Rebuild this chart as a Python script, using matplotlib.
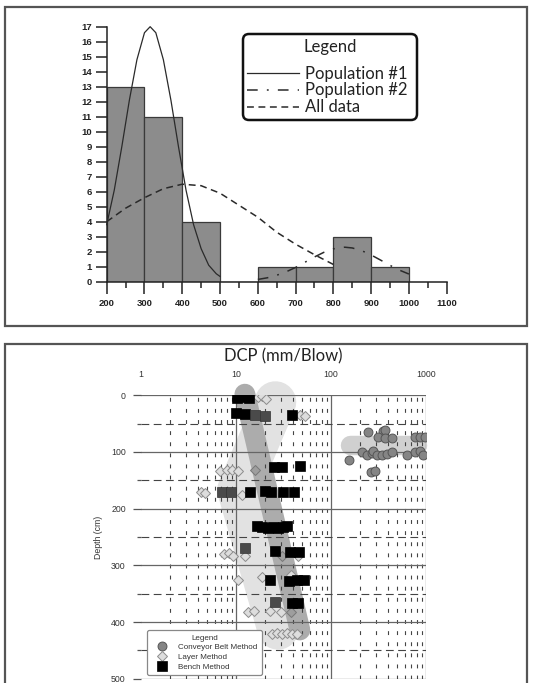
import matplotlib
matplotlib.use('Agg')
import matplotlib.pyplot as plt
import matplotlib.ticker as mticker
from matplotlib.patches import FancyBboxPatch

# ---------------- top panel data (histogram + fitted curves) ----------------
bin_edges = [200, 300, 400, 500, 600, 700, 800, 900, 1000]
bin_counts = [13, 11, 4, 0, 1, 1, 3, 1]

pop1_x = [200, 220, 240, 260, 280, 300, 315, 330, 350, 370, 390, 410, 430, 450, 470, 490, 500]
pop1_y = [3.8, 6.1, 9.0, 12.1, 14.8, 16.6, 17.0, 16.6, 14.8, 12.1, 9.0, 6.1, 3.8, 2.2, 1.1, 0.53, 0.35]

pop2_x = [600, 625, 650, 675, 700, 725, 750, 775, 800, 830, 850, 875, 900, 925, 950, 975, 1000]
pop2_y = [0.15, 0.26, 0.43, 0.66, 0.95, 1.30, 1.65, 1.96, 2.19, 2.30, 2.25, 2.07, 1.78, 1.44, 1.09, 0.77, 0.51]

all_x = [200, 250, 300, 350, 400, 450, 500, 550, 600, 650, 700, 750, 800]
all_y = [4.0, 4.9, 5.6, 6.2, 6.5, 6.4, 5.9, 5.1, 4.3, 3.3, 2.5, 1.8, 1.15]

top_xticks = [200, 300, 400, 500, 600, 700, 800, 900, 1000, 1100]
top_yticks = list(range(0, 18))
top_legend_labels = ['Population #1', 'Population #2', 'All data']

# ---------------- bottom panel data (DCP vs depth) ----------------
bench_x = [10.2, 12.0, 13.7, 9.9, 12.4, 38.6, 25.1, 30.7, 47.2, 14.0, 20.2, 23.2, 31.5, 41.1,
           16.6, 19.0, 21.5, 24.5, 27.5, 31.0, 34.5, 25.7, 37.0, 46.0, 22.8, 36.1, 43.9, 52.0,
           38.6, 45.3]
bench_y = [4, 3, 4, 32, 33, 35, 126, 126, 124, 170, 169, 171, 170, 171,
           231, 233, 234, 233, 234, 232, 231, 275, 276, 276, 325, 327, 326, 325,
           366, 366]
bench_dark_x = [15.9, 20.2, 7.2, 8.8, 12.4, 25.7]
bench_dark_y = [35, 36, 170, 170, 270, 364]

layer_x = [17.1, 19.0, 20.7, 47.0, 53.0, 6.8, 8.0, 9.0, 10.5, 4.3, 4.7, 11.5,
           7.5, 8.4, 9.3, 12.4, 45.3, 10.6, 18.6, 37.9, 13.5, 15.5, 22.8, 29.5,
           23.8, 26.8, 30.3, 34.2, 38.6, 43.5]
layer_y = [3, 1, 6, 34, 36, 133, 132, 131, 133, 171, 173, 176,
           280, 278, 284, 284, 284, 325, 320, 317, 382, 381, 381, 382,
           421, 420, 422, 420, 421, 422]
layer_dark_x = [15.7, 30.3, 37.9]
layer_dark_y = [132, 283, 382]

conv_x = [247, 355, 370, 315, 370, 435, 766, 865, 977,
          210, 238, 268, 280, 303, 342, 386, 435, 626, 766, 865, 937,
          155, 262, 290]
conv_y = [64, 63, 61, 73, 76, 76, 73, 73, 73,
          100, 105, 102, 98, 106, 105, 104, 100, 105, 100, 99, 105,
          114, 136, 134]

# trend bands drawn behind the points
layer_band_x = [26.0, 10.5, 27.7]
layer_band_y = [12, 167, 412]
bench_band_x = [12.4, 47.0]
bench_band_y = [-2, 414]
conv_band_x = [158, 800]
conv_band_y = [87, 87]

bottom_xticks = [1, 10, 100, 1000]
bottom_yticks = [0, 100, 200, 300, 400, 500]
bottom_legend_labels = ['Conveyor Belt Method', 'Layer Method', 'Bench Method']

W, H = 534, 683
fig = plt.figure(figsize=(W / 100, H / 100), dpi=100)
fig.patch.set_facecolor('white')


def px_box(x0, y0, x1, y1):
    return [x0 / W, 1 - y1 / H, (x1 - x0) / W, (y1 - y0) / H]


# frames (in inches via dpi_scale_trans)
for (x0, y0, x1, y1) in [(5, 7, 527, 326), (5, 344, 527, 690)]:
    fr = FancyBboxPatch((x0 / 100, (H - y1) / 100), (x1 - x0) / 100, (y1 - y0) / 100,
                        boxstyle='square,pad=0', transform=fig.dpi_scale_trans,
                        fc='none', ec='#555555', lw=1.6, zorder=0)
    fig.patches.append(fr)

# ======================= TOP PANEL =======================
ax = fig.add_axes(px_box(106.7, 26.7, 446.7, 281.7))
widths = [bin_edges[i + 1] - bin_edges[i] for i in range(len(bin_counts))]
ax.bar(bin_edges[:-1], bin_counts, width=widths, align='edge',
       color='#8c8c8c', edgecolor='#3a3a3a', linewidth=0.9, zorder=1)
l1, = ax.plot(pop1_x, pop1_y, color='#2a2a2a', lw=0.9, zorder=3, clip_on=False)
l2, = ax.plot(pop2_x, pop2_y, color='#2a2a2a', lw=1.1, ls=(0, (7, 6, 1.2, 6)), zorder=3)
l3, = ax.plot(all_x, all_y, color='#2a2a2a', lw=1.1, ls=(0, (4.5, 3)), zorder=3)

ax.set_xlim(200, 1100)
ax.set_ylim(0, 17)
ax.set_xticks(top_xticks)
ax.xaxis.set_minor_locator(mticker.MultipleLocator(50))
ax.set_yticks(top_yticks)
for s in ['top', 'right']:
    ax.spines[s].set_visible(False)
for s in ['left', 'bottom']:
    ax.spines[s].set_color('#222222')
    ax.spines[s].set_linewidth(1.1)
ax.tick_params(axis='x', which='major', direction='out', length=8.6, width=1.1,
               color='#222222', pad=3.6)
ax.tick_params(axis='x', which='minor', direction='out', length=4.3, width=1.1,
               color='#222222')
ax.tick_params(axis='y', which='major', direction='out', length=7.7, width=1.1,
               color='#222222', pad=3)
for lab in ax.get_xticklabels() + ax.get_yticklabels():
    lab.set_fontfamily('Liberation Sans')
    lab.set_fontweight('bold')
    lab.set_fontsize(6.8)
    lab.set_color('#222222')
ax.patch.set_alpha(0)

# top legend: rounded box + title + entries (all inside the top axes' artists)
lb = FancyBboxPatch((243 / 100, (H - 120) / 100), 174 / 100, 86 / 100,
                    boxstyle='round,pad=0,rounding_size=0.06',
                    transform=fig.dpi_scale_trans, fc='white', ec='#111111', lw=1.8,
                    zorder=5, clip_on=False)
ax.add_patch(lb)
ax.text(330 / W, 1 - 47 / H, 'Legend', ha='center', va='center', transform=fig.transFigure,
        fontsize=12, family='Lato', color='#222222', zorder=6)
leg = ax.legend([l1, l2, l3], top_legend_labels, loc='upper left',
                bbox_to_anchor=(247 / W, 1 - 65.5 / H), bbox_transform=fig.transFigure,
                frameon=False, borderpad=0, borderaxespad=0, handlelength=3.1,
                handletextpad=0.4, labelspacing=0.06,
                prop={'family': 'Lato', 'size': 12})
for t in leg.get_texts():
    t.set_color('#222222')
leg.set_zorder(7)

# ======================= BOTTOM PANEL =======================
ax2 = fig.add_axes(px_box(141, 395.3, 426, 678.7))
ax2.set_xscale('log')
ax2.set_xlim(1, 1000)
ax2.set_ylim(500, 0)

# bands
ax2.plot(layer_band_x, layer_band_y, color='#e2e2e2', lw=30, solid_capstyle='round',
         solid_joinstyle='round', zorder=0.2, clip_on=False)
ax2.plot(bench_band_x, bench_band_y, color='#acacac', lw=15, solid_capstyle='round',
         zorder=0.3, clip_on=False)
ax2.plot(conv_band_x, conv_band_y, color='#d0d0d0', lw=14, solid_capstyle='round',
         zorder=0.3, clip_on=False)

ax2.set_axisbelow(True)
ax2.xaxis.set_ticks_position('top')
ax2.set_xticks(bottom_xticks)
ax2.set_xticklabels([str(v) for v in bottom_xticks])
ax2.xaxis.set_minor_locator(mticker.LogLocator(base=10, subs=range(2, 10), numticks=50))
ax2.xaxis.set_minor_formatter(mticker.NullFormatter())
ax2.set_yticks(bottom_yticks)
ax2.set_yticks([50, 150, 250, 350, 450], minor=True)
for s in ax2.spines.values():
    s.set_visible(False)
ax2.tick_params(axis='x', which='both', length=0, pad=11.5, labelsize=6.3,
                labelcolor='#333333')
ax2.tick_params(axis='y', which='major', length=6, width=0.9, color='#555555', pad=5,
                labelsize=6.3, labelcolor='#333333')
ax2.tick_params(axis='y', which='minor', length=3, width=0.9, color='#555555')
for lab in ax2.get_xticklabels() + ax2.get_yticklabels():
    lab.set_fontfamily('Liberation Sans')

ax2.xaxis.grid(True, which='major', color='#666666', lw=0.9, ls='-')
ax2.yaxis.grid(True, which='major', color='#666666', lw=0.9, ls='-')
ax2.xaxis.grid(True, which='minor', color='#444444', lw=0.8, ls=(0, (3.5, 6.5)))
ax2.yaxis.grid(True, which='minor', color='#444444', lw=0.8, ls=(0, (7, 4)))
ax2.xaxis.get_major_ticks()[0].gridline.set_visible(False)

ax2.set_ylabel('Depth (cm)', fontsize=6.3, family='Liberation Sans', color='#333333')
ax2.yaxis.set_label_coords(-0.135, 0.5)

# points
hc, = ax2.plot(conv_x, conv_y, 'o', ms=6.4, mfc='#858585', mec='#555555', mew=0.7, zorder=4)
hl, = ax2.plot(layer_x, layer_y, 'D', ms=4.6, mfc='#dddddd', mec='#8c8c8c', mew=0.7, zorder=4)
ax2.plot(layer_dark_x, layer_dark_y, 'D', ms=4.6, mfc='#9e9e9e', mec='#777777', mew=0.7, zorder=4)
hb, = ax2.plot(bench_x, bench_y, 's', ms=7.4, mfc='#000000', mec='#000000', mew=0.5, zorder=5)
ax2.plot(bench_dark_x, bench_dark_y, 's', ms=7.4, mfc='#4a4a4a', mec='#333333', mew=0.5, zorder=5)

fig.text(283.5 / W, 1 - 356 / H, 'DCP (mm/Blow)', ha='center', va='center',
         fontsize=12, family='Lato', color='#222222')

leg2 = ax2.legend([hc, hl, hb], bottom_legend_labels, title='Legend', loc='lower left',
                  bbox_to_anchor=(147.3 / W, 1 - 675 / H), bbox_transform=fig.transFigure,
                  borderaxespad=0, frameon=True, fancybox=True, borderpad=0.55,
                  handlelength=2.6, handletextpad=0.65, labelspacing=0.25,
                  prop={'family': 'Liberation Sans', 'size': 5.8},
                  title_fontproperties={'family': 'Liberation Sans', 'size': 5.8})
leg2.get_frame().set_edgecolor('#888888')
leg2.get_frame().set_linewidth(0.9)
leg2.get_frame().set_facecolor('white')
leg2.get_frame().set_alpha(1)
for t in leg2.get_texts():
    t.set_color('#333333')
leg2.get_title().set_color('#333333')
leg2.set_zorder(8)

fig.savefig('out.png', dpi=100, facecolor='white')
